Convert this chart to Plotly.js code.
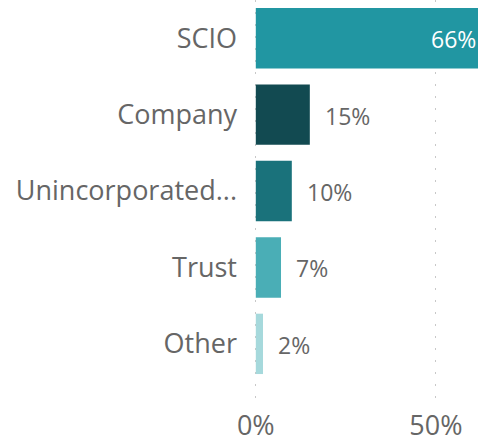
<!DOCTYPE html>
<html><head><meta charset="utf-8">
<script src="https://cdn.plot.ly/plotly-3.0.1.min.js"></script>
<style>body{margin:0;padding:0;background:#fff}#chart{width:478px;height:445px}</style>
</head><body><div id="chart"></div>
<script>
const categories = ["SCIO", "Company", "Unincorporated...", "Trust", "Other"];
const values = [66, 15, 10, 7, 2];
const barColors = ["#2196A2", "#124A51", "#1A727B", "#4AAEB6", "#A6D9DC"];
const xTickVals = [0, 50];
const xTickText = ["0%", "50%"];
const xMin = -0.5;
const xMax = 61.7;

const annotations = values.map((v, i) => {
  const inside = v > xMax;
  return {
    x: inside ? xMax : v, y: categories[i], xref: "x", yref: "y",
    text: v + "%", showarrow: false,
    xanchor: inside ? "right" : "left",
    xshift: inside ? 0 : 13, yshift: -1,
    font: {family: "Open Sans, sans-serif", size: 23, color: inside ? "#ffffff" : "#666666"}
  };
});

Plotly.newPlot("chart", [{
  type: "bar", orientation: "h",
  x: values, y: categories,
  marker: {color: barColors},
  hoverinfo: "none"
}], {
  width: 478, height: 445,
  margin: {l: 254, r: 0, t: 0, b: 40},
  bargap: 0.21,
  showlegend: false,
  paper_bgcolor: "#fff", plot_bgcolor: "#fff",
  xaxis: {
    range: [xMin, xMax], tickvals: xTickVals, ticktext: xTickText,
    showgrid: true, gridcolor: "#c8c8c8", gridwidth: 1, griddash: "1.5px,10.5px",
    zeroline: false, showline: false, ticks: "",
    tickfont: {family: "Open Sans, sans-serif", size: 27, color: "#666666"},
    ticklabelstandoff: 2, fixedrange: true
  },
  yaxis: {
    autorange: false, range: [4.8, -0.5], type: "category",
    showgrid: false, zeroline: false, showline: false, ticks: "",
    tickfont: {family: "Open Sans, sans-serif", size: 27, color: "#666666"},
    ticklabelstandoff: 16, fixedrange: true
  },
  annotations: annotations
}, {displayModeBar: false, staticPlot: true});
</script></body></html>
